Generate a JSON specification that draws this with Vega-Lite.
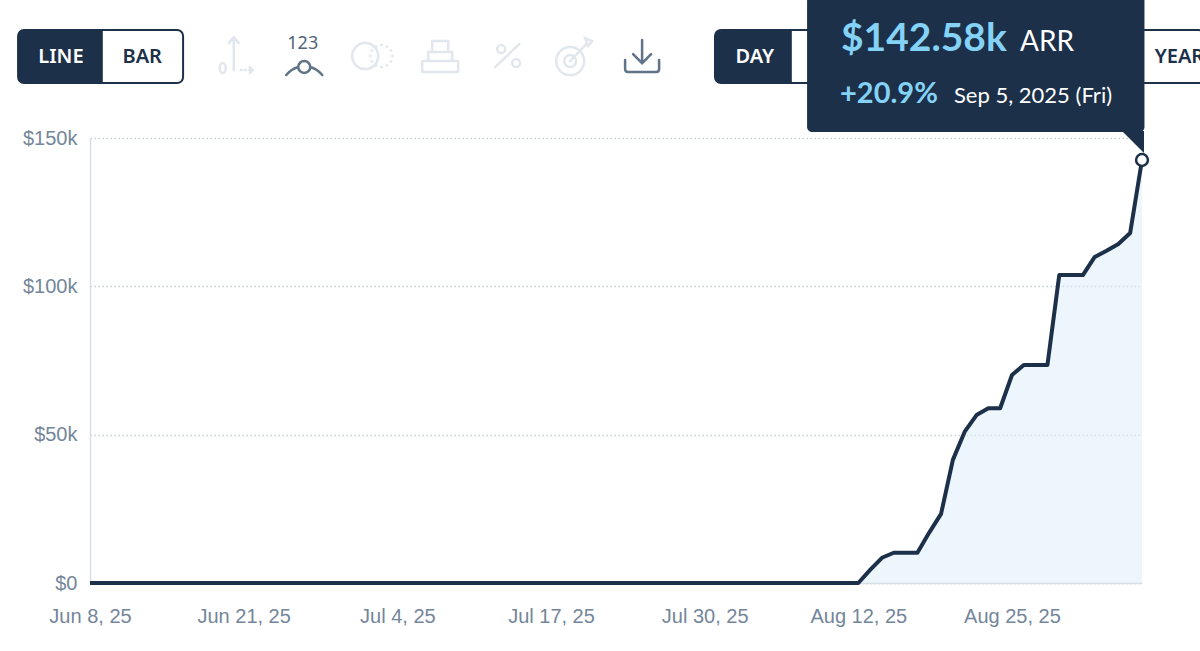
{
  "$schema": "https://vega.github.io/schema/vega-lite/v6.json",
  "description": "ARR per day with the chart toolbar and the hover callout on the last day.",
  "width": 1052,
  "height": 445,
  "autosize": "none",
  "padding": {"left": 90, "top": 138, "right": 58, "bottom": 68},
  "background": "#ffffff",
  "config": {
    "view": {"stroke": null},
    "axis": {
      "title": null,
      "ticks": false,
      "labelFont": "Liberation Sans",
      "labelFontSize": 20,
      "labelColor": "#74869a",
      "domainColor": "#d5e0e7",
      "domainWidth": 1.5
    }
  },
  "datasets": {
    "arr": [
      {"day": "2025-06-08T00:00:00", "arr": 0},
      {"day": "2025-08-12T00:00:00", "arr": 0},
      {"day": "2025-08-13T00:00:00", "arr": 4.4},
      {"day": "2025-08-14T00:00:00", "arr": 8.5},
      {"day": "2025-08-15T00:00:00", "arr": 10.2},
      {"day": "2025-08-16T00:00:00", "arr": 10.2},
      {"day": "2025-08-17T00:00:00", "arr": 10.2},
      {"day": "2025-08-18T00:00:00", "arr": 17},
      {"day": "2025-08-19T00:00:00", "arr": 23.3},
      {"day": "2025-08-20T00:00:00", "arr": 41.5},
      {"day": "2025-08-21T00:00:00", "arr": 51},
      {"day": "2025-08-22T00:00:00", "arr": 56.6},
      {"day": "2025-08-23T00:00:00", "arr": 58.9},
      {"day": "2025-08-24T00:00:00", "arr": 58.9},
      {"day": "2025-08-25T00:00:00", "arr": 70.1},
      {"day": "2025-08-26T00:00:00", "arr": 73.5},
      {"day": "2025-08-27T00:00:00", "arr": 73.5},
      {"day": "2025-08-28T00:00:00", "arr": 73.5},
      {"day": "2025-08-29T00:00:00", "arr": 103.8},
      {"day": "2025-08-30T00:00:00", "arr": 103.8},
      {"day": "2025-08-31T00:00:00", "arr": 103.8},
      {"day": "2025-09-01T00:00:00", "arr": 109.9},
      {"day": "2025-09-02T00:00:00", "arr": 112},
      {"day": "2025-09-03T00:00:00", "arr": 114.3},
      {"day": "2025-09-04T00:00:00", "arr": 118},
      {"day": "2025-09-05T00:00:00", "arr": 142.58}
    ],
    "latest": [
      {"day": "2025-09-05T00:00:00", "arr": 142.58, "amount": "$142.58k", "unit": "ARR", "change": "+20.9%", "date": "Sep 5, 2025 (Fri)"}
    ],
    "callout": [
      {"from": "2025-08-07T16:00:00", "to": "2025-09-05T05:00:00", "low": 152, "high": 198}
    ],
    "groups": [
      {"group": "type", "from": "2025-06-01T22:00:00", "to": "2025-06-15T21:00:00", "low": 168.5, "high": 186.4},
      {"group": "range", "from": "2025-07-30T21:00:00", "to": "2025-09-10T07:00:00", "low": 168.5, "high": 186.4}
    ],
    "selected": [
      {"group": "type", "from": "2025-06-01T22:00:00", "to": "2025-06-09T02:00:00", "low": 168.5, "high": 186.4},
      {"group": "range", "from": "2025-07-30T21:00:00", "to": "2025-08-06T09:00:00", "low": 168.5, "high": 186.4}
    ],
    "labels": [
      {"label": "LINE", "day": "2025-06-05T13:00:00", "level": 177.3, "state": "on"},
      {"label": "BAR", "day": "2025-06-12T10:00:00", "level": 177.3, "state": "off"},
      {"label": "DAY", "day": "2025-08-03T06:00:00", "level": 177.3, "state": "on"},
      {"label": "YEAR", "day": "2025-09-08T04:00:00", "level": 177.3, "state": "off"}
    ],
    "icons": [
      {"icon": "axes", "day": "2025-06-20T08:00:00", "level": 177.6, "state": "disabled"},
      {"icon": "values", "day": "2025-06-26T03:00:00", "level": 173.6, "state": "enabled"},
      {"icon": "compare", "day": "2025-07-01T21:00:00", "level": 177.6, "state": "disabled"},
      {"icon": "stack", "day": "2025-07-07T15:00:00", "level": 177.6, "state": "disabled"},
      {"icon": "percent", "day": "2025-07-13T07:00:00", "level": 177.6, "state": "disabled"},
      {"icon": "goal", "day": "2025-07-18T21:00:00", "level": 177.6, "state": "disabled"},
      {"icon": "download", "day": "2025-07-24T17:00:00", "level": 177.6, "state": "enabled"}
    ],
    "badge": [
      {"label": "123", "day": "2025-06-26T00:00:00", "level": 181.7}
    ]
  },
  "layer": [
    {
      "data": {"name": "arr"},
      "mark": {"type": "area", "color": "#dcebfc", "opacity": 0.5},
      "encoding": {
        "x": {
          "field": "day",
          "type": "temporal",
          "scale": {"domain": ["2025-06-08T00:00:00", "2025-09-05T00:00:00"]},
          "axis": {
            "format": "%b %-d, %y",
            "labelPadding": 23,
            "labelFlush": false,
            "labelOverlap": false,
            "grid": false,
            "values": [
              "2025-06-08T00:00:00",
              "2025-06-21T00:00:00",
              "2025-07-04T00:00:00",
              "2025-07-17T00:00:00",
              "2025-07-30T00:00:00",
              "2025-08-12T00:00:00",
              "2025-08-25T00:00:00"
            ]
          }
        },
        "y": {
          "field": "arr",
          "type": "quantitative",
          "scale": {"domain": [0, 150], "nice": false},
          "axis": {
            "values": [0, 50, 100, 150],
            "labelExpr": "datum.value === 0 ? '$0' : '$' + datum.value + 'k'",
            "labelPadding": 13,
            "grid": true,
            "gridColor": "#c6ced4",
            "gridDash": [1.5, 2.5],
            "gridWidth": 1.5
          }
        }
      }
    },
    {
      "data": {"name": "arr"},
      "mark": {"type": "line", "color": "#1c3049", "strokeWidth": 4, "strokeJoin": "round"},
      "encoding": {
        "x": {"field": "day", "type": "temporal"},
        "y": {"field": "arr", "type": "quantitative"}
      }
    },
    {
      "data": {"name": "groups"},
      "mark": {"type": "rect", "fill": "#ffffff", "stroke": "#1c3049", "strokeWidth": 2, "cornerRadius": 6},
      "encoding": {
        "x": {"field": "from", "type": "temporal"},
        "x2": {"field": "to"},
        "y": {"field": "low", "type": "quantitative"},
        "y2": {"field": "high"}
      }
    },
    {
      "data": {"name": "selected"},
      "mark": {"type": "rect", "fill": "#1c3049", "cornerRadiusTopLeft": 6, "cornerRadiusBottomLeft": 6},
      "encoding": {
        "x": {"field": "from", "type": "temporal"},
        "x2": {"field": "to"},
        "y": {"field": "low", "type": "quantitative"},
        "y2": {"field": "high"}
      }
    },
    {
      "data": {"name": "labels"},
      "mark": {"type": "text", "font": "Noto Sans", "fontSize": 20, "fontWeight": 600, "align": "center", "baseline": "middle"},
      "encoding": {
        "x": {"field": "day", "type": "temporal"},
        "y": {"field": "level", "type": "quantitative"},
        "text": {"field": "label"},
        "color": {
          "field": "state",
          "type": "nominal",
          "scale": {"domain": ["on", "off", "enabled", "disabled"], "range": ["#ffffff", "#1c3049", "#5f7488", "#e2e7ee"]},
          "legend": null
        }
      }
    },
    {
      "data": {"name": "icons"},
      "mark": {"type": "point", "filled": false, "size": 4, "strokeWidth": 2.5, "opacity": 1, "strokeCap": "round"},
      "encoding": {
        "x": {"field": "day", "type": "temporal"},
        "y": {"field": "level", "type": "quantitative"},
        "shape": {
          "field": "icon",
          "type": "nominal",
          "legend": null,
          "scale": {
            "domain": ["axes", "values", "compare", "stack", "percent", "goal", "download"],
            "range": [
              "M-2,14 L-2,-19 M-7,-13 L-2,-19 L3,-13 M-16,12 a3,5 0 1,0 6,0 a3,5 0 1,0 -6,0 M5,14 h1 M9,14 h1 M13,14 h4 M14,11 L17,14 L14,17",
              "M-6,-1 a6,6 0 1,0 12,0 a6,6 0 1,0 -12,0 M-18,7 Q-13,1 -6,-1 M6,-1 Q13,1 18,7",
              "M-20,0 a13,13 0 1,0 26,0 a13,13 0 1,0 -26,0 M20,0 h0.5 M18.5,5.5 h0.5 M14.5,9.5 h0.5 M9,11 h0.5 M3.5,9.5 h0.5 M18.5,-5.5 h0.5 M14.5,-9.5 h0.5 M9,-11 h0.5 M3.5,-9.5 h0.5 M-2,0 h0.5 M-0.5,5.5 h0.5 M-0.5,-5.5 h0.5",
              "M-17,5 h34 q1,0 1,1 v9 q0,1 -1,1 h-34 q-1,0 -1,-1 v-9 q0,-1 1,-1 Z M-12,5 v-9 h24 v9 M-8,-4 v-11 h16 v11",
              "M-12,11 L12,-12 M-10,-7 a4,4 0 1,0 8,0 a4,4 0 1,0 -8,0 M5,7 a4,4 0 1,0 8,0 a4,4 0 1,0 -8,0",
              "M-17,5 a14,14 0 1,0 28,0 a14,14 0 1,0 -28,0 M-9,5 a6,6 0 1,0 12,0 a6,6 0 1,0 -12,0 M-3,5 L14,-13 M12,-18 L19,-15 L15,-10 Z",
              "M0,-16 V7 M-9,-2 L0,7 L9,-2 M-17,4 V13 Q-17,16 -14,16 H14 Q17,16 17,13 V4"
            ]
          }
        },
        "color": {
          "field": "state",
          "type": "nominal",
          "scale": {"domain": ["on", "off", "enabled", "disabled"], "range": ["#ffffff", "#1c3049", "#5f7488", "#e2e7ee"]},
          "legend": null
        }
      }
    },
    {
      "data": {"name": "badge"},
      "mark": {"type": "text", "font": "Noto Sans", "fontSize": 18, "color": "#4f6478", "align": "center", "baseline": "middle"},
      "encoding": {
        "x": {"field": "day", "type": "temporal"},
        "y": {"field": "level", "type": "quantitative"},
        "text": {"field": "label"}
      }
    },
    {
      "data": {"name": "callout"},
      "mark": {"type": "rect", "fill": "#1c3049", "cornerRadius": 5},
      "encoding": {
        "x": {"field": "from", "type": "temporal"},
        "x2": {"field": "to"},
        "y": {"field": "low", "type": "quantitative"},
        "y2": {"field": "high"}
      }
    },
    {
      "data": {"name": "latest"},
      "mark": {"type": "point", "shape": "M-20,-29 L2,-29 L2,-7 Z", "filled": true, "size": 4, "color": "#1c3049", "opacity": 1},
      "encoding": {
        "x": {"field": "day", "type": "temporal"},
        "y": {"field": "arr", "type": "quantitative"}
      }
    },
    {
      "data": {"name": "latest"},
      "mark": {"type": "point", "shape": "circle", "filled": true, "size": 140, "fill": "#ffffff", "stroke": "#1c3049", "strokeWidth": 2.5, "opacity": 1},
      "encoding": {
        "x": {"field": "day", "type": "temporal"},
        "y": {"field": "arr", "type": "quantitative"}
      }
    },
    {
      "data": {"name": "latest"},
      "mark": {"type": "text", "font": "Lato", "fontSize": 39, "fontWeight": "bold", "color": "#84d2f6", "align": "left", "baseline": "alphabetic", "dx": -301, "dy": -109},
      "encoding": {
        "x": {"field": "day", "type": "temporal"},
        "y": {"field": "arr", "type": "quantitative"},
        "text": {"field": "amount"}
      }
    },
    {
      "data": {"name": "latest"},
      "mark": {"type": "text", "font": "Lato", "fontSize": 28, "color": "#ffffff", "align": "left", "baseline": "alphabetic", "dx": -122, "dy": -109},
      "encoding": {
        "x": {"field": "day", "type": "temporal"},
        "y": {"field": "arr", "type": "quantitative"},
        "text": {"field": "unit"}
      }
    },
    {
      "data": {"name": "latest"},
      "mark": {"type": "text", "font": "Lato", "fontSize": 29, "fontWeight": "bold", "color": "#84d2f6", "align": "left", "baseline": "alphabetic", "dx": -302, "dy": -57},
      "encoding": {
        "x": {"field": "day", "type": "temporal"},
        "y": {"field": "arr", "type": "quantitative"},
        "text": {"field": "change"}
      }
    },
    {
      "data": {"name": "latest"},
      "mark": {"type": "text", "font": "Lato", "fontSize": 22, "color": "#ffffff", "align": "left", "baseline": "alphabetic", "dx": -188, "dy": -57},
      "encoding": {
        "x": {"field": "day", "type": "temporal"},
        "y": {"field": "arr", "type": "quantitative"},
        "text": {"field": "date"}
      }
    }
  ]
}
